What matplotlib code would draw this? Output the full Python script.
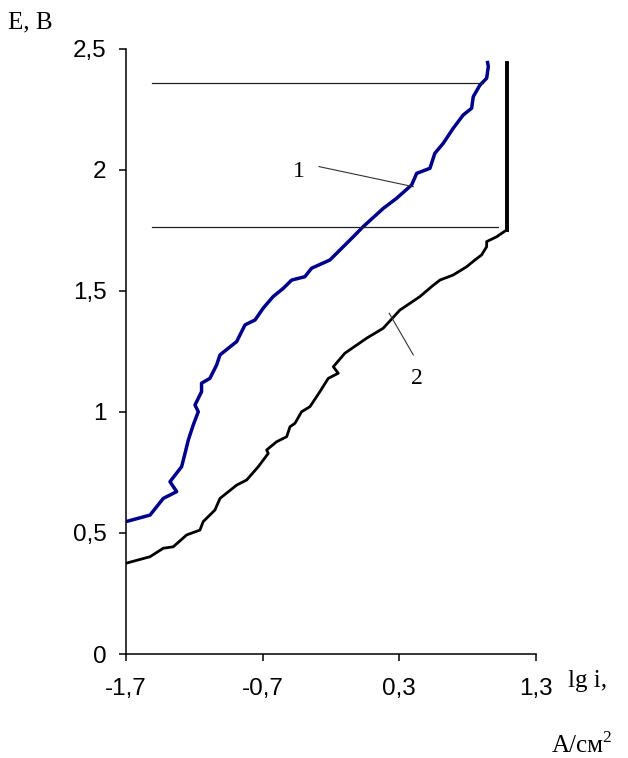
import matplotlib
matplotlib.use("Agg")
import matplotlib.pyplot as plt

# curve 1 (blue)
lg_i_1 = [-1.70, -1.524, -1.427, -1.329, -1.378, -1.293, -1.268, -1.244, -1.232, -1.208,
          -1.171, -1.195, -1.147, -1.147, -1.086, -1.037, -1.012, -0.890, -0.829, -0.756,
          -0.696, -0.623, -0.549, -0.488, -0.391, -0.342, -0.208, -0.135, -0.037, 0.036,
          0.182, 0.280, 0.390, 0.427, 0.524, 0.560, 0.621, 0.694, 0.767, 0.829,
          0.841, 0.890, 0.939, 0.951, 0.946]
E_1 = [0.547, 0.574, 0.643, 0.671, 0.712, 0.774, 0.829, 0.884, 0.905, 0.946,
       1.001, 1.029, 1.084, 1.119, 1.139, 1.194, 1.236, 1.291, 1.360, 1.380,
       1.429, 1.477, 1.511, 1.545, 1.559, 1.594, 1.628, 1.669, 1.724, 1.766,
       1.841, 1.883, 1.938, 1.986, 2.007, 2.069, 2.110, 2.172, 2.227, 2.255,
       2.303, 2.351, 2.379, 2.427, 2.444]

# curve 2 (black)
lg_i_2 = [-1.70, -1.524, -1.427, -1.354, -1.256, -1.159, -1.135, -1.049, -1.012, -0.890,
          -0.817, -0.732, -0.659, -0.671, -0.598, -0.524, -0.500, -0.464, -0.415, -0.354,
          -0.281, -0.220, -0.147, -0.183, -0.098, 0.061, 0.182, 0.304, 0.451, 0.536,
          0.597, 0.694, 0.792, 0.853, 0.902, 0.939, 0.939, 1.012, 1.048, 1.085]
E_2 = [0.375, 0.402, 0.437, 0.443, 0.492, 0.512, 0.547, 0.595, 0.643, 0.698,
       0.719, 0.774, 0.829, 0.843, 0.877, 0.898, 0.939, 0.953, 1.001, 1.022,
       1.084, 1.139, 1.160, 1.187, 1.243, 1.305, 1.346, 1.421, 1.477, 1.518,
       1.545, 1.566, 1.600, 1.628, 1.649, 1.683, 1.704, 1.724, 1.738, 1.752]

# limiting current (vertical) and horizontal reference levels
limit_x = 1.085
limit_E = [1.752, 2.444]
levels = [2.358, 1.763]
level_x0 = -1.512
level_x1 = [0.914, 1.024]

xticks = [-1.7, -0.7, 0.3, 1.3]
xlabels = ['-1,7', '-0,7', '0,3', '1,3']
yticks = [0, 0.5, 1, 1.5, 2, 2.5]
ylabels = ['0', '0,5', '1', '1,5', '2', '2,5']

fig = plt.figure(figsize=(6.28, 7.58), dpi=100)
ax = fig.add_axes([0.2006, 0.1372, 0.6529, 0.7982])

ax.plot(lg_i_1, E_1, color='#00008b', lw=2.5, solid_joinstyle='round')
ax.plot(lg_i_2, E_2, color='black', lw=2.0, solid_joinstyle='round')
ax.plot([limit_x, limit_x], limit_E, color='black', lw=2.8)
for lev, x1 in zip(levels, level_x1):
    ax.plot([level_x0, x1], [lev, lev], color='#222222', lw=0.9)

# curve labels with leader lines
ax.plot([-0.288, 0.402], [2.014, 1.931], color='#333333', lw=0.8)
ax.text(-0.434, 1.993, '1', fontsize=17, family='Liberation Serif', ha='center', va='center')
ax.plot([0.226, 0.402], [1.408, 1.236], color='#333333', lw=0.8)
ax.text(0.426, 1.139, '2', fontsize=17, family='Liberation Serif', ha='center', va='center')

ax.set_xlim(-1.7, 1.3)
ax.set_ylim(0, 2.5)
ax.set_xticks(xticks)
ax.set_xticklabels(xlabels)
ax.set_yticks(yticks)
ax.set_yticklabels(ylabels)
for s in ['top', 'right']:
    ax.spines[s].set_visible(False)
for s in ['left', 'bottom']:
    ax.spines[s].set_linewidth(1.1)
ax.tick_params(axis='x', direction='out', length=5, width=1.1, pad=12)
ax.tick_params(axis='y', direction='out', length=5, width=1.1, pad=9)
for lab in ax.get_xticklabels() + ax.get_yticklabels():
    lab.set_family('Liberation Sans')
    lab.set_fontsize(17.5)

fig.text(0.0127, 0.962, 'E, B', fontsize=18, family='Liberation Serif', va='baseline')
fig.text(0.905, 0.0937, 'lg i,', fontsize=18, family='Liberation Serif', va='baseline')
fig.text(0.878, 0.0079, 'А/см', fontsize=18, family='Liberation Serif', va='baseline')
fig.text(0.9585, 0.0210, '2', fontsize=12.5, family='Liberation Serif', va='baseline')

fig.savefig('out.png', dpi=100)
